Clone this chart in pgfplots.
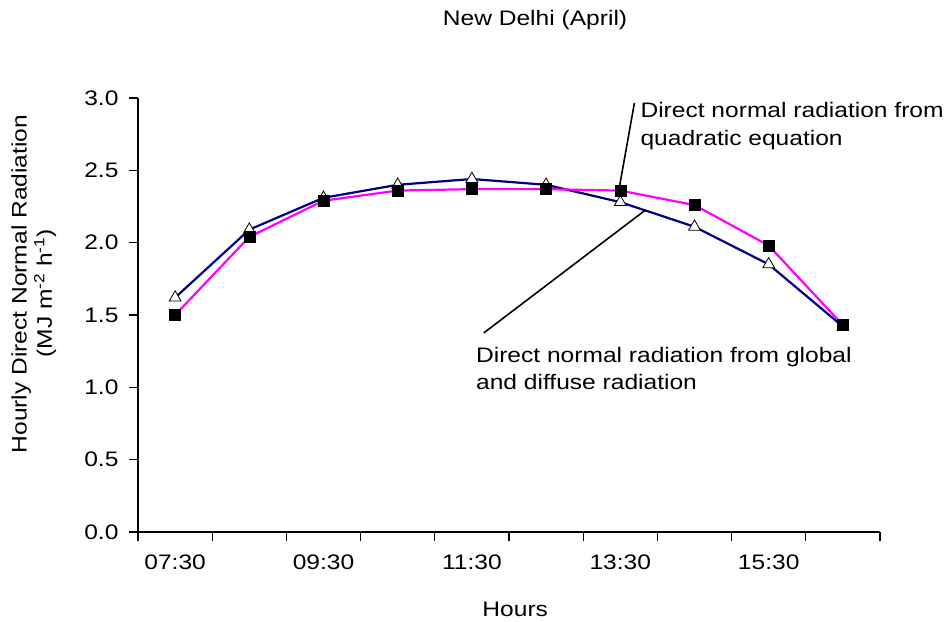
\documentclass[border=0pt]{standalone}
\usepackage{pgfplots}
\pgfplotsset{compat=1.18}
\usepackage{fontspec}
\setmainfont{Liberation Sans}[FakeStretch=1.17]
\definecolor{navyline}{RGB}{0,0,128}
\definecolor{magline}{RGB}{255,0,255}
\newcommand{\chfont}{\fontsize{21bp}{25bp}\selectfont}
\begin{document}
\begin{tikzpicture}
\useasboundingbox (0,0) rectangle (949bp,622bp);
\begin{axis}[
  at={(138bp,90bp)}, anchor=south west,
  width=742bp, height=434bp, scale only axis,
  xmin=-0.5, xmax=9.5, ymin=0, ymax=3,
  clip=false,
  axis lines=left,
  axis line style={-, line width=1.3bp, black},
  x tick label as interval,
  xtick={-0.5,0.5,...,9.5},
  xticklabels={07:30,,09:30,,11:30,,13:30,,15:30,},
  ytick={0,0.5,...,3},
  tick align=outside,
  major tick length=9bp,
  tick style={black, line width=1.3bp},
  tick label style={font=\chfont},
  xticklabel style={yshift=-10bp},
  yticklabel style={xshift=-7bp},
  /pgf/number format/assume math mode=true,
  yticklabel style={/pgf/number format/.cd, fixed, fixed zerofill, precision=1},
]
\addplot[navyline, line width=2.2bp, mark=triangle*, mark size=6.8bp,
  mark options={fill=white, draw=black, line width=0.8bp}]
  coordinates {(0,1.62) (1,2.09) (2,2.31) (3,2.40) (4,2.44) (5,2.40) (6,2.28) (7,2.11) (8,1.85) (9,1.42)};
\addplot[magline, line width=2.2bp, mark=square*, mark size=5.5bp,
  mark options={fill=black, draw=black, line width=0.5bp}]
  coordinates {(0,1.50) (1,2.04) (2,2.29) (3,2.36) (4,2.37) (5,2.37) (6,2.36) (7,2.26) (8,1.98) (9,1.43)};

\draw[black, line width=1.6bp] (axis cs:6.19,2.965) -- (axis cs:5.99,2.39);
\draw[black, line width=1.6bp] (axis cs:4.16,1.376) -- (axis cs:6.34,2.226);

\node[anchor=base west, inner sep=0, font=\chfont] at (axis cs:6.27,2.862) {Direct normal radiation from};
\node[anchor=base west, inner sep=0, font=\chfont] at (axis cs:6.27,2.675) {quadratic equation};
\node[anchor=base west, inner sep=0, font=\chfont] at (axis cs:4.054,1.175) {Direct normal radiation from global};
\node[anchor=base west, inner sep=0, font=\chfont] at (axis cs:4.054,0.982) {and diffuse radiation};

\node[anchor=base, inner sep=0, font=\chfont] at (axis cs:4.851,3.498) {New Delhi (April)};
\node[anchor=base, inner sep=0, font=\chfont] at (axis cs:4.584,-0.581) {Hours};
\node[anchor=base, inner sep=0, rotate=90, font=\chfont] at (axis cs:-2.0,1.714) {Hourly Direct Normal Radiation};
\node[anchor=base, inner sep=0, rotate=90, font=\chfont] at (axis cs:-1.662,1.65) {(MJ m\textsuperscript{-2} h\textsuperscript{-1})};
\end{axis}
\end{tikzpicture}
\end{document}
